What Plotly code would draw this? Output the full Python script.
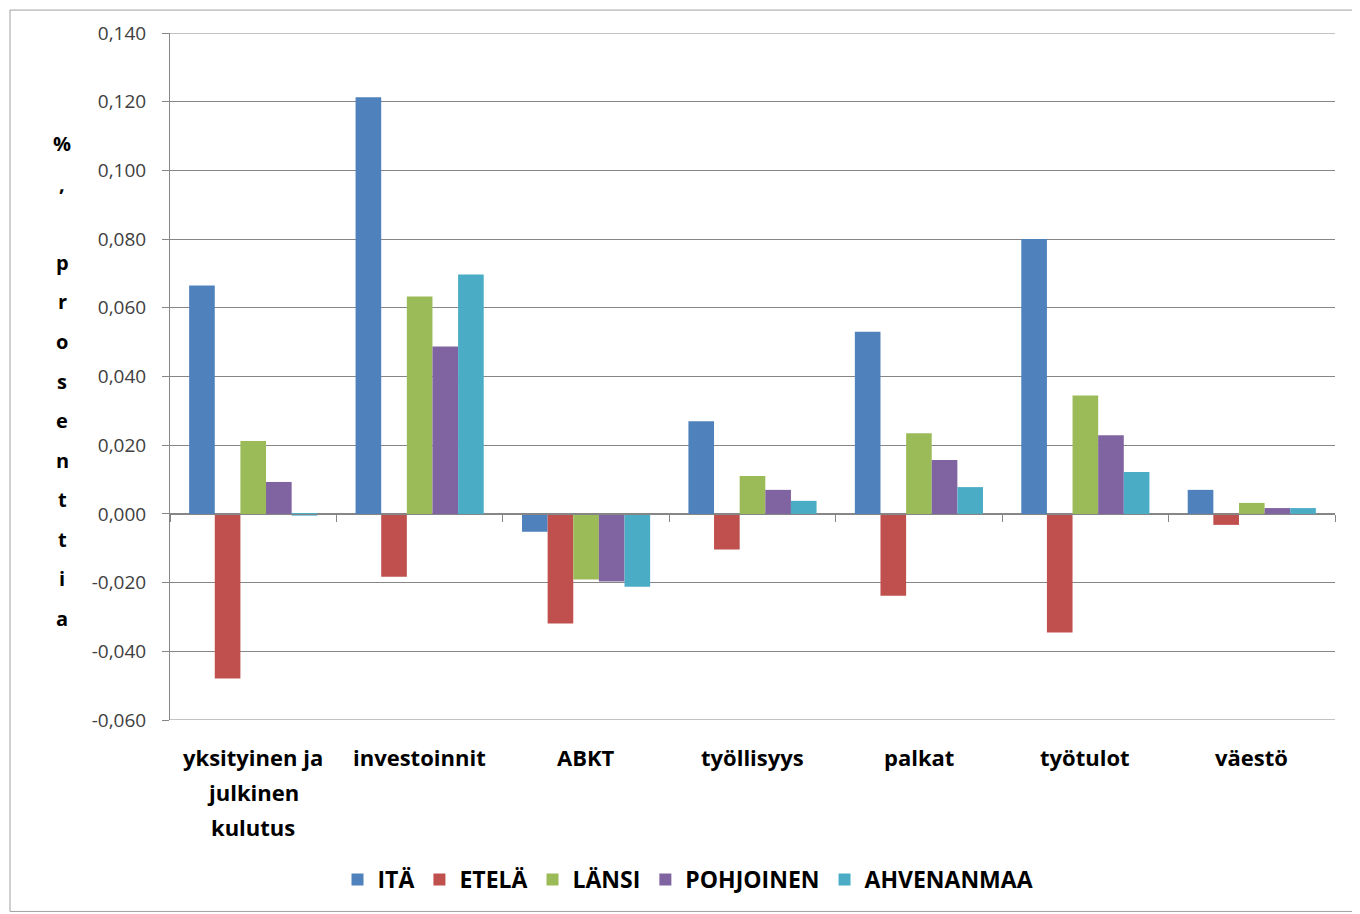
import plotly.graph_objects as go

categories = ["yksityinen ja julkinen kulutus", "investoinnit", "ABKT", "työllisyys",
              "palkat", "työtulot", "väestö"]
category_lines = [["yksityinen ja", "julkinen", "kulutus"], ["investoinnit"], ["ABKT"],
                  ["työllisyys"], ["palkat"], ["työtulot"], ["väestö"]]

ita = [0.0665, 0.1213, -0.0052, 0.0270, 0.0530, 0.0800, 0.0070]
etela = [-0.0479, -0.0183, -0.0319, -0.0104, -0.0238, -0.0345, -0.0032]
lansi = [0.0212, 0.0633, -0.0191, 0.0110, 0.0235, 0.0345, 0.0032]
pohjoinen = [0.0093, 0.0487, -0.0197, 0.0070, 0.0157, 0.0229, 0.0017]
ahvenanmaa = [-0.0005, 0.0697, -0.0212, 0.0038, 0.0078, 0.0122, 0.0017]

series_names = ["ITÄ", "ETELÄ", "LÄNSI", "POHJOINEN", "AHVENANMAA"]
series_values = [ita, etela, lansi, pohjoinen, ahvenanmaa]
colors = ["#4F81BD", "#C0504D", "#9BBB59", "#8064A2", "#4BACC6"]

y_tick_vals = [-0.06, -0.04, -0.02, 0.0, 0.02, 0.04, 0.06, 0.08, 0.10, 0.12, 0.14]
y_tick_labels = ["-0,060", "-0,040", "-0,020", "0,000", "0,020", "0,040", "0,060",
                 "0,080", "0,100", "0,120", "0,140"]

y_title = "%, prosenttia"
y_min, y_max = -0.06, 0.14

fig = go.Figure()
for name, vals, col in zip(series_names, series_values, colors):
    fig.add_trace(go.Bar(x=categories, y=vals, name=name, marker_color=col,
                         marker_line_width=0))

# page is offset by the 8px body margin of the browser
OFF = 8
PW, PH = 1360, 914
W, H = PW - OFF, PH - OFF
plot_left, plot_right, plot_top, plot_bottom = 170, 1335, 31, 720
ml = plot_left - OFF
mt = plot_top - OFF
mr = PW - plot_right
mb = PH - plot_bottom
ph = plot_bottom - plot_top
pw = plot_right - plot_left


def px_x(x):
    return (x - plot_left) / pw


def px_y(y):
    return (plot_bottom - y) / ph


grid = "#868686"
fig.update_layout(
    width=W, height=H,
    margin=dict(l=ml, r=mr, t=mt, b=mb, pad=0),
    paper_bgcolor="white", plot_bgcolor="white",
    barmode="group", bargap=0.23, bargroupgap=0,
    showlegend=True,
    legend=dict(orientation="h", x=px_x(688), xanchor="center",
                y=px_y(880), yanchor="middle",
                font=dict(family="Open Sans", size=23, color="#000000", weight="bold"),
                itemwidth=30, tracegroupgap=0),
    xaxis=dict(type="category", anchor="free",
               position=(0 - y_min) / (y_max - y_min),
               showline=True, linecolor=grid, linewidth=1,
               ticks="outside", tickson="boundaries", ticklen=7, tickcolor=grid,
               showticklabels=False, showgrid=False, zeroline=False),
    yaxis=dict(range=[y_min, y_max], tickmode="array",
               tickvals=y_tick_vals, ticktext=y_tick_labels,
               showline=True, linecolor=grid, linewidth=1,
               ticks="outside", ticklen=7, tickcolor=grid,
               ticklabelstandoff=12,
               showgrid=True, gridcolor=grid, gridwidth=1,
               zeroline=False,
               tickfont=dict(family="Open Sans", size=19, color="#404040")),
)

# gridlines at the top and bottom edges of the value range
for yv in (y_min, y_max):
    fig.add_shape(type="line", xref="paper", yref="y", x0=0, x1=1, y0=yv, y1=yv,
                  line=dict(color=grid, width=1), layer="below")

# category labels (multi-line, wider line spacing like the original)
for cat, lines in zip(categories, category_lines):
    for j, line in enumerate(lines):
        fig.add_annotation(x=cat, xref="x", y=px_y(757 + 35 * j), yref="paper",
                           text=line, showarrow=False, xanchor="center", yanchor="middle",
                           font=dict(family="Open Sans", size=22, color="#000000", weight="bold"))

# stacked vertical axis title
for i, ch in enumerate(y_title):
    if ch == " ":
        continue
    fig.add_annotation(x=px_x(62), xref="paper", y=px_y(142 + 39.67 * i), yref="paper",
                       text=ch, showarrow=False, xanchor="center", yanchor="middle",
                       font=dict(family="Open Sans", size=20, color="#000000", weight="bold"))

# chart-area border
fig.add_shape(type="rect", xref="paper", yref="paper",
              x0=px_x(10), x1=px_x(1356),
              y0=px_y(912), y1=px_y(OFF),
              line=dict(color="#A0A0A0", width=1), fillcolor="rgba(0,0,0,0)", layer="below")

fig.write_html("out.html")
